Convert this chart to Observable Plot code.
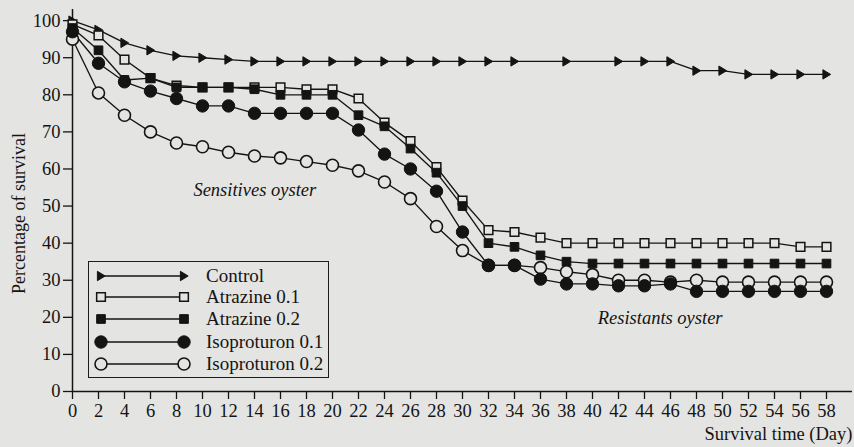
<!DOCTYPE html>
<html><head><meta charset="utf-8">
<script src="https://cdn.jsdelivr.net/npm/d3@7"></script>
<script src="https://cdn.jsdelivr.net/npm/@observablehq/plot@0.6"></script>
<style>
html,body{margin:0;padding:0;background:#e4e4e2;}
#wrap{position:relative;width:854px;height:447px;overflow:hidden;}
#legend{position:absolute;left:88px;top:261px;width:241px;height:117px;border:1.3px solid #1c1c1c;box-sizing:border-box;background:#e4e4e2;}
</style></head><body><div id="wrap"></div>
<script>
// ---- data ----
const days = [0,2,4,6,8,10,12,14,16,18,20,22,24,26,28,30,32,34,36,38,40,42,44,46,48,50,52,54,56,58];
const controlDays = [0,2,4,6,8,10,12,14,16,18,20,22,24,26,28,30,32,34,38,42,44,46,48,50,52,54,56,58];
const control = [100,97.5,94,92,90.5,90,89.5,89,89,89,89,89,89,89,89,89,89,89,89,89,89,89,86.5,86.5,85.5,85.5,85.5,85.5];
const atrazine01 = [99,96,89.5,84.5,82.5,82,82,82,82,81.5,81.5,79,72.5,67.5,60.5,51.5,43.5,43,41.5,40,40,40,40,40,40,40,40,40,39,39];
const atrazine02 = [98,92,84,84.5,82,82,82,81.5,80,80,80,74.5,71.5,65.5,59,50,40,39,36.7,35,34.5,34.5,34.5,34.5,34.5,34.5,34.5,34.5,34.5,34.5];
const isoproturon01 = [97,88.5,83.5,81,79,77,77,75,75,75,75,70.5,64,60,54,43,34,34,30.3,29,29,28.5,28.5,29,27,27,27,27,27,27];
const isoproturon02 = [95,80.5,74.5,70,67,66,64.5,63.5,63,62,61,59.5,56.5,52,44.5,38,34,34,33.4,32.3,31.5,30,30,29.5,30,29.5,29.5,29.5,29.5,29.5];
const seriesNames = ["Control","Atrazine 0.1","Atrazine 0.2","Isoproturon 0.1","Isoproturon 0.2"];
const xTicks = [0,2,4,6,8,10,12,14,16,18,20,22,24,26,28,30,32,34,36,38,40,42,44,46,48,50,52,54,56,58];
const yTicks = [0,10,20,30,40,50,60,70,80,90,100];
const annotations = [{text:"Sensitives oyster", day:9.3, pct:54.4},{text:"Resistants oyster", day:40.4, pct:19.9}];
const axisTitles = [
  {text:"Percentage of survival", day:-4.1, pct:48, rotate:-90, anchor:"middle"},
  {text:"Survival time (Day)", day:60, pct:-11.6, rotate:0, anchor:"end"}
];

// ---- build table ----
const valueLists = [control, atrazine01, atrazine02, isoproturon01, isoproturon02];
const dayLists = [controlDays, days, days, days, days];
const rows = [];
seriesNames.forEach((name, i) => valueLists[i].forEach((v, j) => rows.push({series: name, day: dayLists[i][j], pct: v})));

// ---- styles ----
const INK = "#141414", BG = "#e4e4e2";
const FONT = "'Liberation Serif', 'Times New Roman', serif";
const triRight = {draw(ctx, size) {
  const r = Math.sqrt(size / Math.PI);
  ctx.moveTo(1.15 * r, 0); ctx.lineTo(-1.0 * r, -1.3 * r); ctx.lineTo(-1.0 * r, 1.3 * r); ctx.closePath();
}};
const styleOf = {
  "Control": {symbol: triRight, r: 3.6, fill: INK, strokeWidth: 1},
  "Atrazine 0.1": {symbol: "square", r: 4.9, fill: BG, strokeWidth: 1.5},
  "Atrazine 0.2": {symbol: "square", r: 4.9, fill: INK, strokeWidth: 1},
  "Isoproturon 0.1": {symbol: "circle", r: 6.2, fill: INK, strokeWidth: 1},
  "Isoproturon 0.2": {symbol: "circle", r: 6, fill: BG, strokeWidth: 1.6}
};
const drawOrder = ["Control","Atrazine 0.1","Atrazine 0.2","Isoproturon 0.2","Isoproturon 0.1"];

const chart = Plot.plot({
  width: 854, height: 447,
  marginLeft: 72, marginRight: 2, marginTop: 9, marginBottom: 56,
  x: {domain: [0, 60]},
  y: {domain: [0, 103]},
  style: {background: BG, color: INK, fontFamily: FONT, fontSize: "18px"},
  marks: [
    Plot.axisX({ticks: xTicks, tickSize: 8, tickPadding: 4, tickFormat: d => String(d), label: null, strokeWidth: 1.3, fontSize: 18.5}),
    Plot.axisY({ticks: yTicks, tickSize: 9, tickPadding: 3, tickFormat: d => String(d), label: null, strokeWidth: 1.3, fontSize: 18.5}),
    Plot.ruleX([0], {stroke: INK, strokeWidth: 1.5}),
    Plot.ruleY([0], {stroke: INK, strokeWidth: 1.5}),
    Plot.line(rows, {x: "day", y: "pct", z: "series", stroke: INK, strokeWidth: 1.35}),
    ...drawOrder.map(name => Plot.dot(rows.filter(d => d.series === name), {
      x: "day", y: "pct", symbol: () => styleOf[name].symbol, r: styleOf[name].r,
      fill: styleOf[name].fill, stroke: INK, strokeWidth: styleOf[name].strokeWidth
    })),
    Plot.text(annotations, {x: "day", y: "pct", text: "text", textAnchor: "start", fontStyle: "italic", fontSize: 18.5, fill: INK}),
    Plot.text([axisTitles[0]], {x: "day", y: "pct", text: "text", rotate: -90, textAnchor: "middle", fontSize: 18, fill: INK}),
    Plot.text([axisTitles[1]], {x: "day", y: "pct", text: "text", textAnchor: "end", fontSize: 18.5, fill: INK})
  ]
});
const wrap = document.getElementById("wrap");
wrap.appendChild(chart);

// ---- legend (overlay inside plot area) ----
const legend = document.createElement("div");
legend.id = "legend";
wrap.appendChild(legend);
const lsvg = d3.select(legend).append("svg").attr("width", 239).attr("height", 115)
  .style("position", "absolute").style("left", "0").style("top", "0");
const rowY = [14, 35, 57, 80, 102];
seriesNames.forEach((name, i) => {
  const s = styleOf[name];
  const g = lsvg.append("g").attr("transform", `translate(0,${rowY[i]})`);
  g.append("line").attr("x1", 12).attr("x2", 95).attr("stroke", INK).attr("stroke-width", 1.3);
  const sym = s.symbol === "circle" ? d3.symbolCircle : s.symbol === "square" ? d3.symbolSquare : s.symbol;
  const path = d3.symbol().type(sym).size(s.r * s.r * Math.PI)();
  [12, 95].forEach(x => g.append("path").attr("d", path).attr("transform", `translate(${x},0)`)
    .attr("fill", s.fill).attr("stroke", INK).attr("stroke-width", s.strokeWidth));
  g.append("text").attr("x", 117).attr("dy", "0.32em").attr("fill", INK)
    .style("font-family", FONT).style("font-size", "19px").text(name);
});
</script>
</body></html>
